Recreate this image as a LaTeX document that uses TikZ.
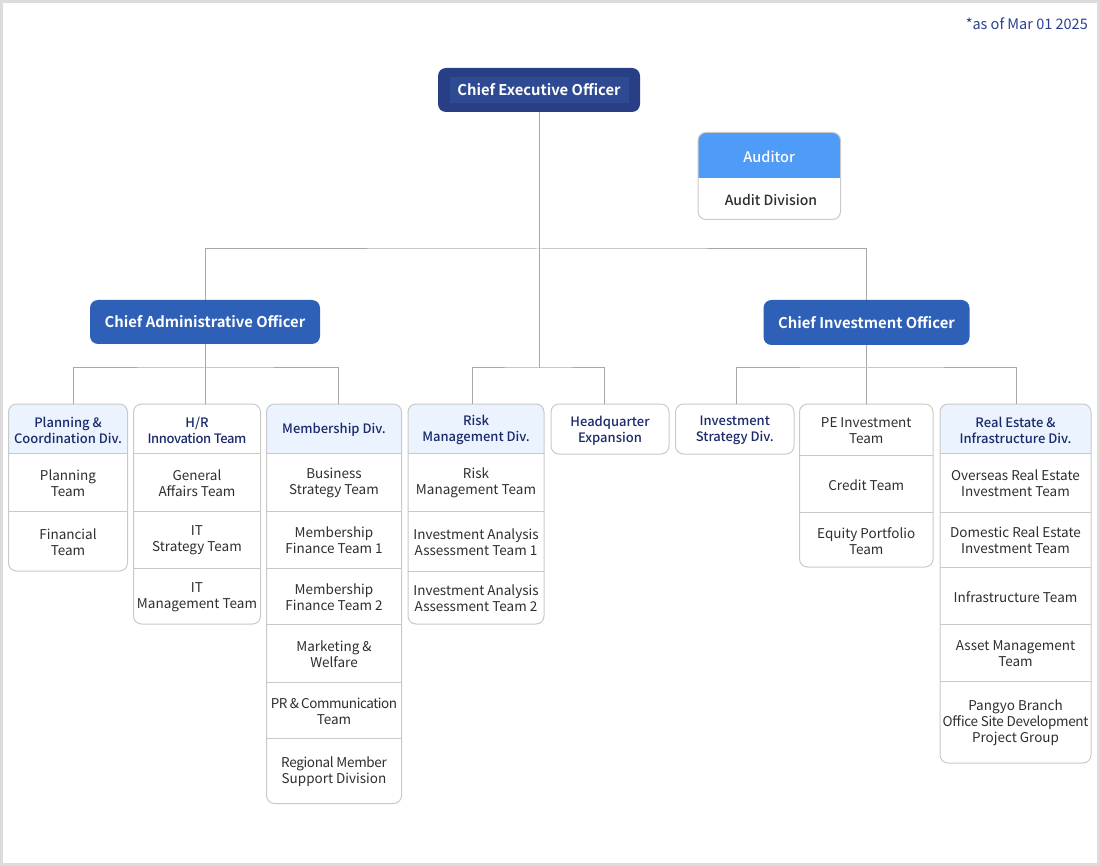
\documentclass[tikz,border=0pt]{standalone}
\usepackage{fontspec}
\setmainfont{Noto Sans CJK KR}[BoldFont={Noto Sans CJK KR Bold}]
\newfontfamily\medfont{Noto Sans CJK KR Medium}
\definecolor{ceoblue}{HTML}{283F86}
\definecolor{ceoin}{HTML}{2E4A93}
\definecolor{chiefblue}{HTML}{2D60B6}
\definecolor{audblue}{HTML}{4E9BF8}
\definecolor{hdrfill}{HTML}{EAF3FE}
\definecolor{navytxt}{HTML}{1B2A6B}
\definecolor{teamgray}{HTML}{2E2E2E}
\definecolor{framegray}{HTML}{C9C9C9}
\definecolor{linegray}{HTML}{A8A8A8}
\definecolor{outergray}{HTML}{DCDCDC}
\definecolor{datetxt}{HTML}{2B3F8F}

\begin{document}
\begin{tikzpicture}[x=1pt, y=-1pt,
    frame/.style={draw=framegray, line width=1pt, rounded corners=8pt, inner sep=0pt},
    ceobox/.style={fill=ceoblue, rounded corners=8pt, minimum width=202pt, minimum height=44pt, inner sep=0pt},
    chief/.style={fill=chiefblue, rounded corners=8pt, text=white, font=\bfseries\fontsize{14.8}{18}\selectfont, inner sep=0pt},
    divtxt/.style={text=navytxt, font=\medfont\fontsize{13}{16}\selectfont, align=center, inner sep=0pt, yshift=-1.5pt},
    teamtxt/.style={text=teamgray, font=\fontsize{13.5}{16}\selectfont, align=center, inner sep=0pt, yshift=-1pt},
    sep/.style={draw=framegray, line width=1pt},
    conn/.style={draw=linegray, line width=1pt}]
  \useasboundingbox (0,0) rectangle (1100,866);

  % 外枠
  \draw[outergray, line width=3pt] (1.5,1.5) rectangle (1098.5,864.5);
  \node[anchor=east, text=datetxt, font=\fontsize{14.5}{16}\selectfont, inner sep=0pt] (asof) at (1088,23.5) {*as of Mar 01 2025};

  % CEO
  \node[ceobox] (ceo) at (539,90) {};
  \fill[ceoin] (450,77) rectangle (629,103);
  \node[text=white, font=\bfseries\fontsize{14.8}{18}\selectfont, inner sep=0pt] (ceo-t) at (539,90) {Chief Executive Officer};

  % 監査
  \fill[audblue, rounded corners=8pt] (698,132.5) rectangle (840.5,178);
  \fill[audblue] (698,165) rectangle (840.5,178);
  \node[frame, minimum width=142.5pt, minimum height=87pt] (aud) at (769.25,176) {};
  \node[text=white, font=\medfont\fontsize{14.5}{17}\selectfont, inner sep=0pt] (aud-h) at (769.25,157) {Auditor};
  \node[teamtxt, font=\medfont\fontsize{14}{17}\selectfont] (aud-1) at (771,199) {Audit Division};

  % CAO, CIO
  \node[chief, minimum width=230pt, minimum height=44pt] (cao) at (205,322) {Chief Administrative Officer};
  \node[chief, minimum width=206pt, minimum height=45pt] (cio) at (866.5,322.5) {Chief Investment Officer};

  % 接続線
  \coordinate (topbus) at (539,249);
  \coordinate (midbus) at (539,368);
  \coordinate (caobus) at (205,368);
  \coordinate (ciobus) at (866.5,368);

  % Planning & Coordination Div.
  \fill[hdrfill, rounded corners=8pt] (8.5,404) rectangle (127.5,453);
  \fill[hdrfill] (8.5,440) rectangle (127.5,453);
  \node[frame, minimum width=119pt, minimum height=167pt] (plan) at (68,487.5) {};
  \draw[sep] (8.5,453) -- (127.5,453);
  \draw[sep] (8.5,511) -- (127.5,511);
  \node[divtxt] (plan-h) at (68,428.5) {Planning \&\\Coordination Div.};
  \node[teamtxt] (plan-1) at (68,482) {Planning\\Team};
  \node[teamtxt] (plan-2) at (68,541) {Financial\\Team};

  % H/R Innovation Team
  \node[frame, minimum width=127pt, minimum height=220pt] (hr) at (197,514) {};
  \draw[sep] (133.5,453) -- (260.5,453);
  \draw[sep] (133.5,511) -- (260.5,511);
  \draw[sep] (133.5,568) -- (260.5,568);
  \node[divtxt] (hr-h) at (197,428.5) {H/R\\{\addfontfeature{LetterSpace=-3}Innovation Team}};
  \node[teamtxt] (hr-1) at (197,482) {General\\Affairs Team};
  \node[teamtxt] (hr-2) at (197,539.5) {IT\\Strategy Team};
  \node[teamtxt] (hr-3) at (197,596) {IT\\Management Team};

  % Membership Div.
  \fill[hdrfill, rounded corners=8pt] (266.5,404) rectangle (401.5,453);
  \fill[hdrfill] (266.5,440) rectangle (401.5,453);
  \node[frame, minimum width=135pt, minimum height=399.5pt] (memb) at (334,603.75) {};
  \draw[sep] (266.5,453) -- (401.5,453);
  \draw[sep] (266.5,511) -- (401.5,511);
  \draw[sep] (266.5,568) -- (401.5,568);
  \draw[sep] (266.5,624.5) -- (401.5,624.5);
  \draw[sep] (266.5,682) -- (401.5,682);
  \draw[sep] (266.5,738.5) -- (401.5,738.5);
  \node[divtxt] (memb-h) at (334,428.5) {Membership Div.};
  \node[teamtxt] (memb-1) at (334,482) {Business\\Strategy Team};
  \node[teamtxt] (memb-2) at (334,539.5) {Membership\\Finance Team 1};
  \node[teamtxt] (memb-3) at (334,596.25) {Membership\\Finance Team 2};
  \node[teamtxt] (memb-4) at (334,653.25) {Marketing \&\\Welfare};
  \node[teamtxt] (memb-5) at (334,710.25) {{\addfontfeature{LetterSpace=-3.3}PR\,\&\,Communication}\\Team};
  \node[teamtxt] (memb-6) at (334,771) {\addfontfeature{LetterSpace=-2.5}Regional Member\\Support Division};

  % Risk Management Div.
  \fill[hdrfill, rounded corners=8pt] (408,404) rectangle (544,453);
  \fill[hdrfill] (408,440) rectangle (544,453);
  \node[frame, minimum width=136pt, minimum height=220pt] (risk) at (476,514) {};
  \draw[sep] (408,453) -- (544,453);
  \draw[sep] (408,511) -- (544,511);
  \draw[sep] (408,571) -- (544,571);
  \node[divtxt] (risk-h) at (476,428.5) {Risk\\Management Div.};
  \node[teamtxt] (risk-1) at (476,482) {Risk\\Management Team};
  \node[teamtxt] (risk-2) at (476,541) {Investment Analysis\\Assessment Team 1};
  \node[teamtxt] (risk-3) at (476,597.5) {Investment Analysis\\Assessment Team 2};

  % Headquarter Expansion
  \node[frame, minimum width=118pt, minimum height=50pt] (hq) at (610,429) {};
  \node[divtxt] (hq-h) at (610,429) {Headquarter\\Expansion};

  % Investment Strategy Div.
  \node[frame, minimum width=118.5pt, minimum height=50pt] (invs) at (734.75,429) {};
  \node[divtxt] (invs-h) at (734.75,429) {Investment\\Strategy Div.};

  % PE Investment Team
  \node[frame, minimum width=133.5pt, minimum height=163pt] (pe) at (866.25,485.5) {};
  \draw[sep] (799.5,455.5) -- (933,455.5);
  \draw[sep] (799.5,512.5) -- (933,512.5);
  \node[teamtxt] (pe-1) at (866.25,429.75) {PE Investment\\Team};
  \node[teamtxt] (pe-2) at (866.25,484) {Credit Team};
  \node[teamtxt] (pe-3) at (866.25,539.75) {Equity Portfolio\\Team};

  % Real Estate & Infrastructure Div.
  \fill[hdrfill, rounded corners=8pt] (940,404) rectangle (1091,453);
  \fill[hdrfill] (940,440) rectangle (1091,453);
  \node[frame, minimum width=151pt, minimum height=359pt] (re) at (1015.5,583.5) {};
  \draw[sep] (940,453) -- (1091,453);
  \draw[sep] (940,512) -- (1091,512);
  \draw[sep] (940,567) -- (1091,567);
  \draw[sep] (940,624.5) -- (1091,624.5);
  \draw[sep] (940,681.5) -- (1091,681.5);
  \node[divtxt] (re-h) at (1015.5,428.5) {Real Estate \&\\Infrastructure Div.};
  \node[teamtxt] (re-1) at (1015.5,482.5) {Overseas Real Estate\\Investment Team};
  \node[teamtxt] (re-2) at (1015.5,539.5) {Domestic Real Estate\\Investment Team};
  \node[teamtxt] (re-3) at (1015.5,595.75) {Infrastructure Team};
  \node[teamtxt] (re-4) at (1015.5,653) {Asset Management\\Team};
  \node[teamtxt] (re-5) at (1015.5,722.25) {Pangyo Branch\\{\addfontfeature{LetterSpace=-2.4}Office Site Development}\\Project Group};

  % 線
  \draw[conn] (ceo.south) -- (midbus);
  \draw[conn] (cao.north) |- (topbus) -| (cio.north);
  \draw[conn] ([xshift=-4pt]risk.north) |- (midbus) -| ([xshift=-6pt]hq.north);
  \draw[conn] (cao.south) -- (caobus);
  \draw[conn] ([xshift=5pt]plan.north) |- (caobus) -| ([xshift=4pt]memb.north);
  \draw[conn] (caobus) -- (hr.north -| caobus);
  \draw[conn] (cio.south) -- (ciobus);
  \draw[conn] ([xshift=1.25pt]invs.north) |- (ciobus) -| ([xshift=0.5pt]re.north);
  \draw[conn] (ciobus) -- (pe.north -| ciobus);
\end{tikzpicture}
\end{document}
